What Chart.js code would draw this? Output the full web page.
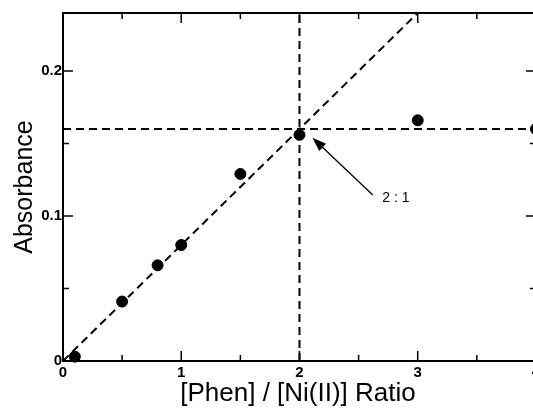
<!DOCTYPE html>
<html><head><meta charset="utf-8">
<script src="https://cdn.jsdelivr.net/npm/chart.js@4/dist/chart.umd.min.js"></script>
<style>html,body{margin:0;padding:0;overflow:hidden;background:#fff}#wrap{width:533px;height:416px;overflow:hidden}canvas{display:block}</style>
</head><body><div id="wrap"><canvas id="c" width="533" height="416"></canvas></div>
<script>
// ---- data ----
const ratio = [0.1, 0.5, 0.8, 1.0, 1.5, 2.0, 3.0, 4.0];
const absorbance = [0.003, 0.041, 0.066, 0.080, 0.129, 0.156, 0.166, 0.160];
const xTicks = [0, 1, 2, 3, 4];
const xMinorTicks = [0.5, 1.5, 2.5, 3.5];
const yTicks = [0, 0.1, 0.2];
const yMinorTicks = [0.05, 0.15];
const xAxisEnd = 4;          // right frame of the plot (just beyond the visible edge)
const xVisibleMax = 3.975;   // value at the visible right edge of the picture
const fitLineX = [0, 3];
const fitLineY = [0, 0.24];
const plateauX = [0, 4];
const plateauY = [0.16, 0.16];
const equivX = [2, 2];
const equivY = [0, 0.24];
const arrowFrom = [2.62, 0.1145];
const arrowTo = [2.11, 0.154];
const annotationText = '2 : 1';
const annotationAt = [2.70, 0.112];
const xTitle = '[Phen] / [Ni(II)] Ratio';
const yTitle = 'Absorbance';

const toPts = (xs, ys) => xs.map((x, i) => ({x: x, y: ys[i]}));
const tickFont = "bold 15px 'Liberation Sans', Arial, sans-serif";

Chart.defaults.font.family = "'Liberation Sans', Arial, sans-serif";
Chart.defaults.color = '#000';

const framePlugin = {
  id: 'frame',
  afterDatasetsDraw(chart) {
    const {ctx, chartArea: a, scales: {x, y}} = chart;
    const R = x.getPixelForValue(xAxisEnd);
    ctx.save();
    ctx.strokeStyle = '#000';
    ctx.lineWidth = 2;
    ctx.beginPath();
    ctx.rect(a.left, a.top, R - a.left, a.bottom - a.top);
    ctx.stroke();
    ctx.lineWidth = 1.5;
    ctx.beginPath();
    const tx = (v, len) => {
      const p = x.getPixelForValue(v);
      ctx.moveTo(p, a.bottom); ctx.lineTo(p, a.bottom - len);
      ctx.moveTo(p, a.top); ctx.lineTo(p, a.top + len);
    };
    const ty = (v, len) => {
      const p = y.getPixelForValue(v);
      ctx.moveTo(a.left, p); ctx.lineTo(a.left + len, p);
      ctx.moveTo(R, p); ctx.lineTo(R - len, p);
    };
    xTicks.forEach(v => tx(v, 10));
    xMinorTicks.forEach(v => tx(v, 6));
    yTicks.forEach(v => ty(v, 10));
    yMinorTicks.forEach(v => ty(v, 6));
    ctx.stroke();
    // tick labels that sit beyond the visible edge (only partly shown)
    ctx.fillStyle = '#000';
    ctx.font = tickFont;
    ctx.textAlign = 'center';
    ctx.textBaseline = 'top';
    xTicks.filter(v => v > xVisibleMax).forEach(v => ctx.fillText(String(v), x.getPixelForValue(v), a.bottom + 3));
    // arrow
    const x0 = x.getPixelForValue(arrowFrom[0]), y0 = y.getPixelForValue(arrowFrom[1]);
    const x1 = x.getPixelForValue(arrowTo[0]), y1 = y.getPixelForValue(arrowTo[1]);
    const ang = Math.atan2(y1 - y0, x1 - x0);
    const hl = 14, hw = 5;
    ctx.lineWidth = 1.3;
    ctx.beginPath();
    ctx.moveTo(x0, y0);
    ctx.lineTo(x1 - Math.cos(ang) * hl * 0.8, y1 - Math.sin(ang) * hl * 0.8);
    ctx.stroke();
    ctx.beginPath();
    ctx.moveTo(x1, y1);
    ctx.lineTo(x1 - Math.cos(ang) * hl + Math.sin(ang) * hw, y1 - Math.sin(ang) * hl - Math.cos(ang) * hw);
    ctx.lineTo(x1 - Math.cos(ang) * hl - Math.sin(ang) * hw, y1 - Math.sin(ang) * hl + Math.cos(ang) * hw);
    ctx.closePath();
    ctx.fill();
    ctx.font = "14px 'Liberation Sans', Arial, sans-serif";
    ctx.textBaseline = 'middle';
    ctx.textAlign = 'left';
    ctx.fillText(annotationText, x.getPixelForValue(annotationAt[0]), y.getPixelForValue(annotationAt[1]));
    ctx.restore();
  }
};

const dashed = {borderColor: '#000', borderWidth: 2, borderDash: [8, 5], pointRadius: 0, showLine: true, fill: false, clip: false};

new Chart(document.getElementById('c'), {
  type: 'scatter',
  data: {
    datasets: [
      {data: toPts(ratio, absorbance), backgroundColor: '#000', borderColor: '#000', pointRadius: 5.5, pointHoverRadius: 5.5, clip: false},
      Object.assign({data: toPts(fitLineX, fitLineY)}, dashed),
      Object.assign({data: toPts(plateauX, plateauY)}, dashed),
      Object.assign({data: toPts(equivX, equivY)}, dashed)
    ]
  },
  options: {
    responsive: false,
    devicePixelRatio: 1,
    animation: false,
    events: [],
    layout: {autoPadding: false, padding: {top: 13, right: 0, left: 0, bottom: 0}},
    plugins: {legend: {display: false}, tooltip: {enabled: false}},
    scales: {
      x: {
        type: 'linear', min: 0, max: xVisibleMax,
        afterBuildTicks: s => { s.ticks = xTicks.filter(v => v <= xVisibleMax).map(v => ({value: v})); },
        afterFit: s => { s.height = 55; },
        grid: {display: false, drawTicks: false},
        border: {display: false},
        ticks: {padding: 3, font: {size: 15, weight: 'bold'}, callback: v => String(v), maxRotation: 0, autoSkip: false},
        title: {display: true, text: xTitle, font: {size: 26}, padding: {top: 0, bottom: 7}}
      },
      y: {
        type: 'linear', min: 0, max: 0.24,
        afterBuildTicks: s => { s.ticks = yTicks.map(v => ({value: v})); },
        afterFit: s => { s.width = 63; },
        grid: {display: false, drawTicks: false},
        border: {display: false},
        ticks: {padding: 1, font: {size: 15, weight: 'bold'}, callback: v => (v === 0 ? '0' : v.toFixed(1))},
        title: {display: true, text: yTitle, font: {size: 25}, padding: {top: 10, bottom: 0}}
      }
    }
  },
  plugins: [framePlugin]
});
</script>
</body></html>
